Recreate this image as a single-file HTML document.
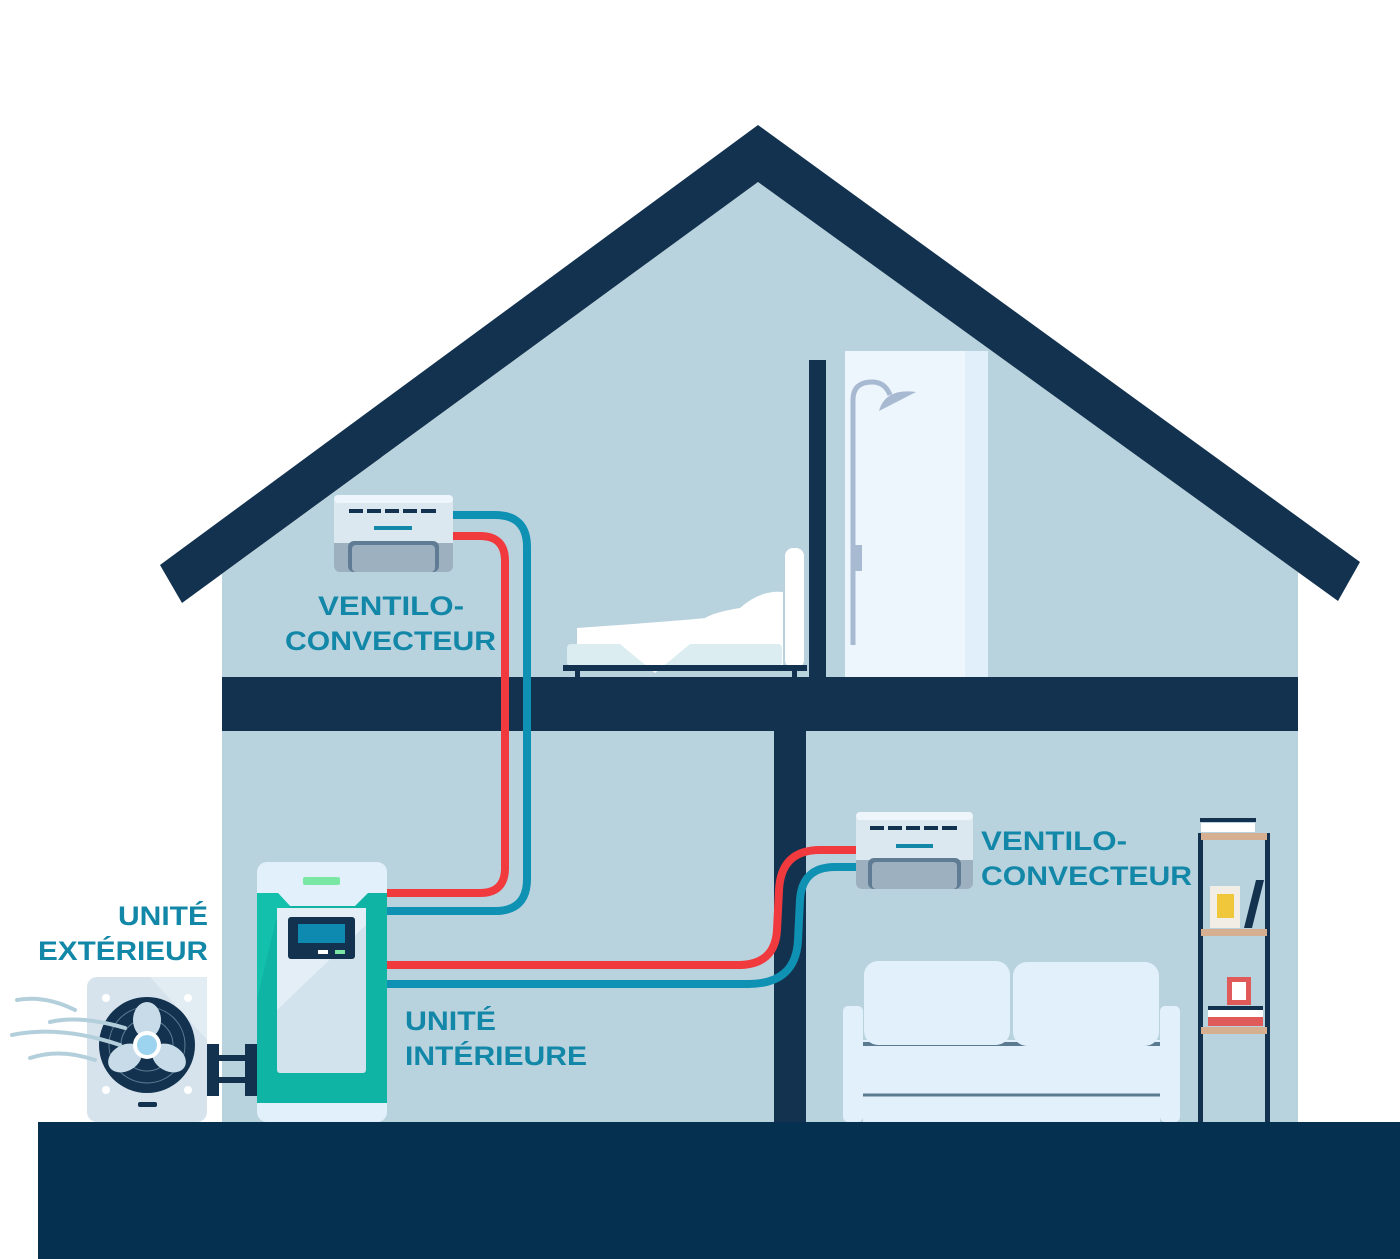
<!DOCTYPE html>
<html><head><meta charset="utf-8"><style>
html,body{margin:0;padding:0;background:#fff;}
svg{display:block;}
text{font-family:"Liberation Sans",sans-serif;font-weight:bold;fill:#1287a8;}
</style></head><body>
<svg width="1400" height="1259" viewBox="0 0 1400 1259" xmlns="http://www.w3.org/2000/svg">
<rect width="1400" height="1259" fill="#fff"/>
<!-- house body -->
<polygon points="222,574 758,182 1298,572 1298,1122 222,1122" fill="#b9d3de"/>
<!-- roof -->
<polygon points="160,565 758,125 1360,562 1338,601 758,182 182,603" fill="#12324f"/>
<!-- floor slab -->
<rect x="222" y="677" width="1076" height="54" fill="#12324f"/>
<rect x="774" y="731" width="32" height="392" fill="#12324f"/>
<rect x="809" y="360" width="17" height="317" fill="#12324f"/>
<!-- shower -->
<rect x="845" y="351" width="143" height="326" fill="#eef6fd"/>
<rect x="965" y="351" width="23" height="326" fill="#e0effa"/>
<path d="M853,645 V400 Q853,382 872,382 Q885,382 890,395" stroke="#a8b9d2" stroke-width="5" fill="none"/>
<path d="M879,411 Q885,388 916,392 Z" fill="#a8b9d2"/>
<rect x="852" y="545" width="10" height="26" fill="#a8b9d2"/>
<!-- bed -->
<rect x="785" y="548" width="19" height="120" rx="8" fill="#fff"/>
<path d="M577,628 Q690,620 705,618 Q715,612 740,608 Q760,590 783,592 L783,665 L577,665 Z" fill="#fff"/>
<rect x="567" y="644" width="215" height="22" rx="4" fill="#dcedf2"/>
<path d="M620,644 L655,673 L690,644 Z" fill="#fff"/>
<rect x="563" y="665" width="244" height="6" fill="#12324f"/>
<rect x="575" y="671" width="5" height="6" fill="#12324f"/>
<rect x="792" y="671" width="5" height="6" fill="#12324f"/>
<!-- sofa -->
<rect x="843" y="1006" width="20" height="116" rx="5" fill="#e2f0fb"/>
<rect x="1160" y="1006" width="20" height="116" rx="5" fill="#e2f0fb"/>
<rect x="863" y="1040" width="297" height="82" fill="#e2f0fb"/>
<line x1="863" y1="1095" x2="1160" y2="1095" stroke="#5a7a90" stroke-width="3"/>
<rect x="863" y="1042" width="297" height="4" fill="#5a7a90"/>
<rect x="864" y="961" width="146" height="84" rx="14" fill="#e2f0fb"/>
<rect x="1013" y="962" width="146" height="84" rx="14" fill="#e2f0fb"/>
<!-- shelf -->
<rect x="1198" y="833" width="5" height="290" fill="#12324f"/>
<rect x="1265" y="833" width="5" height="290" fill="#12324f"/>
<rect x="1201" y="833" width="66" height="7" fill="#d6ae90"/>
<rect x="1201" y="929" width="66" height="7" fill="#d6ae90"/>
<rect x="1201" y="1027" width="66" height="7" fill="#d6ae90"/>
<rect x="1200" y="818" width="56" height="4" fill="#12324f"/>
<rect x="1201" y="823" width="54" height="9" fill="#fff"/>
<rect x="1210" y="886" width="30" height="42" fill="#f3eee5"/>
<rect x="1217" y="894" width="17" height="24" fill="#f0c63a"/>
<polygon points="1244,928 1256,880 1264,880 1252,928" fill="#12324f"/>
<rect x="1227" y="977" width="24" height="28" fill="#e05a5a"/>
<rect x="1232" y="982" width="14" height="18" fill="#fff"/>
<rect x="1208" y="1006" width="55" height="4" fill="#12324f"/>
<rect x="1208" y="1010" width="55" height="7" fill="#fff"/>
<rect x="1208" y="1017" width="55" height="9" fill="#e05a5a"/>
<!-- pipes upper -->
<path d="M387,893 H480 Q505,893 505,868 V561 Q505,536 480,536 H453" stroke="#f13a3e" stroke-width="8" fill="none"/>
<path d="M387,911 H495 Q527,911 527,879 V547 Q527,515 495,515 H453" stroke="#0e91b3" stroke-width="8" fill="none"/>
<!-- pipes lower -->
<path d="M387,965 H738 Q775,965 777,930 L779,890 Q781,850 820,850 H856" stroke="#f13a3e" stroke-width="8" fill="none"/>
<path d="M387,984 H748 Q796,984 798,940 L800,900 Q802,867 835,867 H856" stroke="#0e91b3" stroke-width="8" fill="none"/>
<!-- fan coil upper -->
<g transform="translate(334,495)">
<rect width="119" height="77" rx="7" fill="#dce8f0"/>
<rect width="119" height="8" rx="4" fill="#eef5fb"/>
<rect x="0" y="40" width="119" height="37" rx="6" fill="#9db0c0"/>
<rect x="0" y="40" width="119" height="8" fill="#dce8f0"/>
<rect x="14" y="46" width="91" height="31" rx="6" fill="#5f7c94"/>
<rect x="18" y="50" width="83" height="27" rx="4" fill="#9db0c0"/>
<g fill="#12324f"><rect x="15" y="14" width="14" height="4"/><rect x="33" y="14" width="14" height="4"/><rect x="51" y="14" width="14" height="4"/><rect x="69" y="14" width="14" height="4"/><rect x="87" y="14" width="15" height="4"/></g>
<rect x="40" y="31" width="38" height="4" fill="#1287a8"/>
</g>
<!-- fan coil lower -->
<g transform="translate(856,812)">
<rect width="117" height="77" rx="7" fill="#dce8f0"/>
<rect width="117" height="8" rx="4" fill="#eef5fb"/>
<rect x="0" y="40" width="117" height="37" rx="6" fill="#9db0c0"/>
<rect x="0" y="40" width="117" height="8" fill="#dce8f0"/>
<rect x="12" y="46" width="93" height="31" rx="6" fill="#5f7c94"/>
<rect x="16" y="50" width="85" height="27" rx="4" fill="#9db0c0"/>
<g fill="#12324f"><rect x="14" y="14" width="14" height="4"/><rect x="32" y="14" width="14" height="4"/><rect x="50" y="14" width="14" height="4"/><rect x="68" y="14" width="14" height="4"/><rect x="86" y="14" width="15" height="4"/></g>
<rect x="40" y="32" width="37" height="4" fill="#1287a8"/>
</g>
<!-- ground -->
<rect x="38" y="1122" width="1362" height="137" fill="#06304f"/>
<!-- indoor unit -->
<rect x="257" y="862" width="130" height="260" rx="10" fill="#e2f0fb"/>
<path d="M257,893 L278,893 L290,906 L355,906 L368,893 L387,893 L387,1103 L257,1103 Z" fill="#0fb4a4"/>
<polygon points="257,893 278,893 290,906 276,920 257,1000" fill="#12c0ac"/>
<rect x="277" y="908" width="89" height="165" rx="3" fill="#d3e3ed"/>
<polygon points="277,1010 366,925 366,908 277,908" fill="#e3eef7"/>
<rect x="303" y="877" width="37" height="8" rx="2" fill="#7ae8a4"/>
<rect x="288" y="917" width="67" height="42" rx="3" fill="#12324f"/>
<rect x="298" y="924" width="47" height="19" fill="#0e8ab0"/>
<rect x="318" y="950" width="10" height="4" fill="#fff"/>
<rect x="335" y="950" width="10" height="4" fill="#7ae8a4"/>
<!-- connectors -->
<rect x="207" y="1044" width="12" height="52" fill="#12324f"/>
<rect x="245" y="1044" width="12" height="52" fill="#12324f"/>
<rect x="215" y="1055" width="34" height="6" fill="#12324f"/>
<rect x="215" y="1077" width="34" height="6" fill="#12324f"/>
<!-- outdoor unit -->
<rect x="87" y="977" width="120" height="145" rx="10" fill="#d6e3ec"/>
<polygon points="150,977 207,977 207,1040" fill="#e2ecf3"/>
<circle cx="147" cy="1045" r="48" fill="#12324f"/>
<circle cx="147" cy="1045" r="38" fill="none" stroke="#5f7c94" stroke-width="1"/>
<circle cx="147" cy="1045" r="26" fill="none" stroke="#5f7c94" stroke-width="1"/>
<g fill="#c8dbe8">
<ellipse cx="147" cy="1020" rx="14" ry="18"/>
<ellipse cx="125" cy="1058" rx="18" ry="13" transform="rotate(-30 125 1058)"/>
<ellipse cx="169" cy="1058" rx="18" ry="13" transform="rotate(30 169 1058)"/>
</g>
<circle cx="147" cy="1045" r="14" fill="#fff"/>
<circle cx="147" cy="1045" r="10" fill="#9cd3ee"/>
<rect x="138" y="1102" width="19" height="5" rx="2" fill="#12324f"/>
<g fill="#fff"><circle cx="106" cy="998" r="4"/><circle cx="188" cy="998" r="4"/><circle cx="106" cy="1090" r="4"/><circle cx="188" cy="1090" r="4"/></g>
<!-- wind -->
<g stroke="#b3cfdc" stroke-width="4" fill="none" stroke-linecap="round">
<path d="M17,1000 Q45,995 75,1010"/>
<path d="M50,1022 Q80,1015 125,1028"/>
<path d="M12,1035 Q60,1025 120,1045"/>
<path d="M30,1058 Q60,1048 95,1060"/>
</g>
<!-- labels -->
<text x="318" y="615" font-size="27" textLength="146" lengthAdjust="spacingAndGlyphs">VENTILO-</text>
<text x="285" y="650" font-size="27" textLength="211" lengthAdjust="spacingAndGlyphs">CONVECTEUR</text>
<text x="981" y="850" font-size="27" textLength="146" lengthAdjust="spacingAndGlyphs">VENTILO-</text>
<text x="981" y="885" font-size="27" textLength="211" lengthAdjust="spacingAndGlyphs">CONVECTEUR</text>
<text x="118" y="925" font-size="27" textLength="90" lengthAdjust="spacingAndGlyphs">UNITÉ</text>
<text x="38" y="960" font-size="27" textLength="170" lengthAdjust="spacingAndGlyphs">EXTÉRIEUR</text>
<text x="405" y="1030" font-size="27" textLength="91" lengthAdjust="spacingAndGlyphs">UNITÉ</text>
<text x="405" y="1065" font-size="27" textLength="182" lengthAdjust="spacingAndGlyphs">INTÉRIEURE</text>
</svg>
</body></html>
